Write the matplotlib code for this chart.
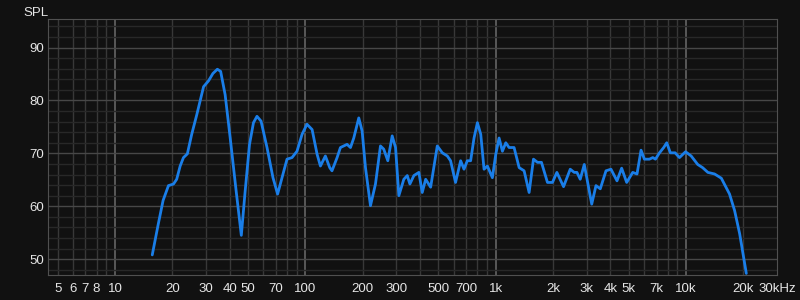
import matplotlib.pyplot as plt
import numpy as np

# frequency response (Hz, dB SPL)
freq = [15.7, 16.9, 17.9, 19.1, 20.3, 21.1, 22.0, 22.9, 24.0, 25.3, 26.9, 29.2,
        31.0, 32.7, 34.5, 35.9, 37.9, 40.3, 43.3, 46.1, 48.3, 50.9, 53.4, 55.7,
        58.5, 62.9, 67.6, 71.5, 75.4, 80.1, 85.1, 90.4, 96.1, 102, 108.5, 115.3,
        120, 127.4, 134.3, 138, 146.8, 152.8, 165.6, 172.6, 179.6, 190.8, 198.7,
        206.9, 219.8, 233.5, 248, 258, 271, 285.8, 297.6, 309.8, 329, 343, 354,
        371.6, 394.6, 411, 428.4, 455, 493, 524, 556.6, 579, 615, 654, 681, 709,
        738, 769, 801, 834, 868, 904, 960, 1000, 1041, 1084, 1129, 1175, 1248,
        1327, 1409, 1497, 1578, 1656, 1738, 1869, 1985, 2094, 2270, 2461, 2583,
        2669, 2778, 2917, 3192, 3360, 3540, 3793, 4029, 4333, 4584, 4871, 5240,
        5520, 5795, 6034, 6414, 6682, 6900, 7244, 7621, 7907, 8262, 8750, 9223,
        9925, 10626, 11500, 12200, 13000, 14100, 15300, 16900, 17960, 19100, 20700]
spl = [50.8, 56.7, 61.1, 63.9, 64.2, 65.1, 67.6, 69.2, 69.9, 73.6, 77.3, 82.6,
       83.7, 85.1, 85.9, 85.5, 81.1, 72.9, 62.9, 54.5, 62.9, 71.7, 75.8, 77.0,
       76.1, 71.1, 65.4, 62.3, 65.4, 68.9, 69.2, 70.4, 73.6, 75.5, 74.5, 69.8,
       67.6, 69.5, 67.3, 66.7, 69.2, 71.1, 71.7, 71.1, 72.9, 76.7, 74.2,
       67.3, 60.1, 64.2, 71.4, 70.8, 68.6, 73.3, 71.1, 62.0, 65.1, 65.8, 64.2,
       65.8, 66.4, 62.6, 65.1, 63.6, 71.4, 70.1, 69.5, 68.6, 64.5, 68.6, 67.0, 68.6,
       68.6, 72.9, 75.8, 73.6, 67.0, 67.6, 65.4, 69.8, 72.9, 70.4, 72.0, 71.1, 71.1,
       67.3, 66.7, 62.6, 68.9, 68.3, 68.3, 64.5, 64.5, 66.4, 63.7, 67.0, 66.4,
       66.4, 65.1, 67.9, 60.4, 63.9, 63.3, 66.7, 67.0, 64.8, 67.2, 64.5, 66.4,
       66.1, 70.6, 68.9, 68.9, 69.2, 68.9, 70.1, 71.1, 72.0, 70.1, 70.1, 69.2,
       70.3, 69.5, 67.9, 67.3, 66.4, 66.1, 65.3, 62.3, 59.2, 54.8, 47.3]

xtick_vals = [5, 6, 7, 8, 10, 20, 30, 40, 50, 70, 100, 200, 300, 500, 700,
              1000, 2000, 3000, 4000, 5000, 7000, 10000, 20000, 30000]
xtick_labels = ["5", "6", "7", "8", "10", "20", "30", "40", "50", "70", "100",
                "200", "300", "500", "700", "1k", "2k", "3k", "4k", "5k", "7k",
                "10k", "20k", "30kHz"]
ytick_vals = [50, 60, 70, 80, 90]

BG = "#111111"
plt.rcParams["font.family"] = ["Liberation Sans", "DejaVu Sans"]

fig = plt.figure(figsize=(8, 3), dpi=100, facecolor=BG)
ax = fig.add_axes([0.06, 0.0833, 0.91125, 0.8534], facecolor=BG)
ax.set_xscale("log")
ax.set_xlim(4.45, 30000)
ax.set_ylim(47, 95.4)

# grid
for dec in [1, 10, 100, 1000, 10000]:
    for m in range(1, 10):
        f = dec * m
        if 4.45 < f < 30000:
            major = m == 1
            ax.axvline(f, color="#5e5e5e" if major else "#383838",
                       lw=1.3 if major else 1.0, zorder=1)
for v in np.arange(48, 96, 2):
    ax.axhline(v, color="#474747" if v % 10 == 0 else "#282828", lw=1.0, zorder=1)

ax.plot(freq, spl, color="#1a7ee8", lw=2.0, zorder=3,
        solid_joinstyle="round", solid_capstyle="round")

ax.set_xticks(xtick_vals)
ax.set_xticklabels(xtick_labels)
ax.xaxis.set_minor_locator(plt.NullLocator())
ax.set_yticks(ytick_vals)
ax.tick_params(length=0, colors="#e6e6e6", labelsize=9.5)
ax.tick_params(axis="x", pad=6)
ax.tick_params(axis="y", pad=3)
for s in ax.spines.values():
    s.set_color("#505050")

fig.text(0.029, 0.955, "SPL", color="#e6e6e6", fontsize=9.5, va="center")

fig.savefig("out.png", facecolor=BG)
